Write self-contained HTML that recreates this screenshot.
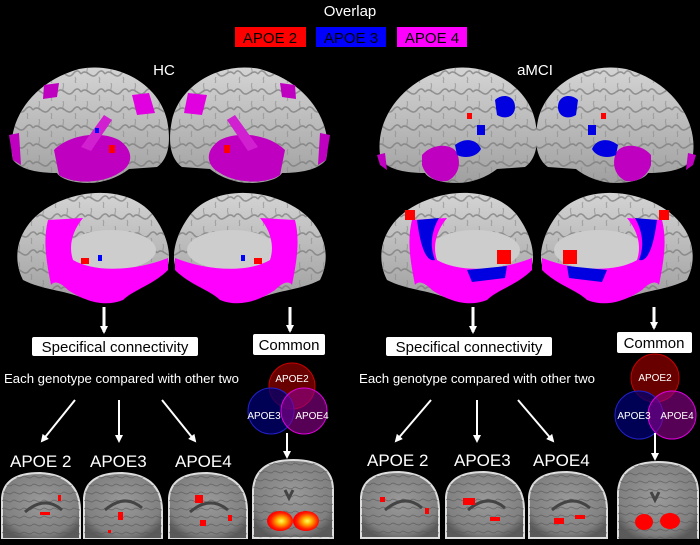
<!DOCTYPE html>
<html><head><meta charset="utf-8"><style>
html,body{margin:0;padding:0;background:#000;}
svg{display:block;}
text{font-family:"Liberation Sans",Arial,sans-serif;}
</style></head><body>
<svg width="700" height="545" viewBox="0 0 700 545" xmlns="http://www.w3.org/2000/svg">
<defs>
<linearGradient id="brainG" x1="0" y1="0" x2="0" y2="1">
<stop offset="0" stop-color="#d4d4d4"/><stop offset="1" stop-color="#a0a0a0"/></linearGradient>
<pattern id="gyri" width="24" height="18" patternUnits="userSpaceOnUse">
<path d="M0,9 C6,2 10,16 16,9 C20,4 22,6 24,9" fill="none" stroke="#7a7a7a" stroke-width="1.6" stroke-opacity="0.7"/>
<path d="M6,0 C8,4 4,6 7,9" fill="none" stroke="#8a8a8a" stroke-width="1.2" stroke-opacity="0.6"/>
<path d="M18,12 C20,15 17,16 19,18" fill="none" stroke="#8a8a8a" stroke-width="1.2" stroke-opacity="0.6"/>
</pattern>
<radialGradient id="mri" cx="0.5" cy="0.45" r="0.6">
<stop offset="0" stop-color="#9a9a9a"/><stop offset="0.8" stop-color="#808080"/><stop offset="1" stop-color="#5a5a5a"/></radialGradient>
<pattern id="mriT" width="10" height="8" patternUnits="userSpaceOnUse">
<path d="M0,4 C3,1 6,7 10,4" fill="none" stroke="#555" stroke-width="1" stroke-opacity="0.6"/>
</pattern>
<radialGradient id="hot" cx="0.55" cy="0.5" r="0.5">
<stop offset="0" stop-color="#ffff60"/><stop offset="0.35" stop-color="#ffb000"/><stop offset="0.8" stop-color="#ff2000"/><stop offset="1" stop-color="#ff0000"/></radialGradient>
<path id="lat" d="M4,95 C-4,60 20,18 70,4 C110,-4 150,20 158,55 C163,80 158,95 148,102 L120,104 C110,112 95,118 80,118 C60,118 50,112 48,108 C30,108 12,105 4,95 Z"/>
<path id="med" d="M10,90 C-5,60 10,25 50,10 C80,-2 120,0 140,25 C155,45 158,65 155,75 C150,85 140,90 120,95 C110,110 90,115 70,108 C50,100 30,100 10,90 Z"/>
<path id="sag" d="M0,66 L0,25 Q2,0 38,0 Q78,2 78,38 L78,66 Z"/>
<path id="cor" d="M0,78 L0,30 Q2,0 40,0 Q80,0 80,30 L80,78 Z"/>
<g id="latB"><use href="#lat" fill="url(#brainG)"/><use href="#lat" fill="url(#gyri)"/></g>
<g id="medB"><use href="#med" fill="url(#brainG)"/><use href="#med" fill="url(#gyri)"/><ellipse cx="98" cy="60" rx="45" ry="20" fill="#cdcdcd"/></g>
<marker id="ah" markerWidth="8" markerHeight="8" refX="6" refY="4" orient="auto" markerUnits="userSpaceOnUse"><path d="M0,0 L8,4 L0,8 Z" fill="#fff"/></marker>
</defs>

<text x="350" y="16" fill="#fff" font-size="15" text-anchor="middle">Overlap</text>
<rect x="235" y="27" width="71" height="20" fill="#f00"/>
<text x="270" y="43" fill="#000" font-size="15" text-anchor="middle">APOE 2</text>
<rect x="316" y="27" width="70" height="20" fill="#00f"/>
<text x="351" y="43" fill="#000" font-size="15" text-anchor="middle">APOE 3</text>
<rect x="397" y="27" width="70" height="20" fill="#f0f"/>
<text x="432" y="43" fill="#000" font-size="15" text-anchor="middle">APOE 4</text>

<text x="164" y="75" fill="#fff" font-size="15" text-anchor="middle">HC</text>
<text x="535" y="75" fill="#fff" font-size="15" text-anchor="middle">aMCI</text>

<!-- HC lateral brains -->
<g transform="translate(9,65)">
<use href="#latB"/>
<path d="M45,85 C60,70 90,65 110,75 C125,85 125,100 110,108 C95,118 65,120 50,110 Z" fill="#c000c0"/>
<path d="M72,82 L95,50 L103,55 L82,86 Z" fill="#d020d0"/>
<path d="M123,30 L140,28 L146,48 L128,50 Z" fill="#e000e0"/>
<path d="M0,70 L10,68 L12,100 L4,95 Z" fill="#c000c0"/>
<path d="M35,20 L50,18 L48,32 L34,34 Z" fill="#c000c0"/>
<rect x="100" y="80" width="6" height="8" fill="#f00"/><rect x="86" y="63" width="4" height="5" fill="#00f"/>
</g>
<g transform="translate(330,65) scale(-1,1)">
<use href="#latB"/>
<path d="M45,85 C60,70 90,65 110,75 C125,85 125,100 110,108 C95,118 65,120 50,110 Z" fill="#c000c0"/>
<path d="M72,82 L95,50 L103,55 L82,86 Z" fill="#d020d0"/>
<path d="M123,30 L142,28 L146,48 L128,50 Z" fill="#e000e0"/>
<path d="M0,70 L10,68 L12,100 L4,95 Z" fill="#c000c0"/>
<path d="M35,20 L50,18 L48,32 L34,34 Z" fill="#c000c0"/>
<rect x="100" y="80" width="6" height="8" fill="#f00"/>
</g>
<!-- aMCI lateral brains -->
<g transform="translate(377,65)">
<use href="#latB"/>
<path d="M45,90 C55,78 75,78 80,88 C85,100 80,112 70,116 C58,118 48,110 45,100 Z" fill="#c000c0"/>
<path d="M78,80 C88,72 100,74 104,84 C100,92 88,94 80,90 Z" fill="#0000e0"/>
<path d="M118,35 C125,28 138,30 138,42 C138,52 128,55 120,50 Z" fill="#0000e0"/>
<rect x="100" y="60" width="8" height="10" fill="#0000e0"/><rect x="90" y="48" width="5" height="6" fill="#f00"/>
<path d="M0,90 L8,88 L10,105 L3,100 Z" fill="#c000c0"/>
</g>
<g transform="translate(696,65) scale(-1,1)">
<use href="#latB"/>
<path d="M45,90 C55,78 75,78 80,88 C85,100 80,112 70,116 C58,118 48,110 45,100 Z" fill="#c000c0"/>
<path d="M78,80 C88,72 100,74 104,84 C100,92 88,94 80,90 Z" fill="#0000e0"/>
<path d="M118,35 C125,28 138,30 138,42 C138,52 128,55 120,50 Z" fill="#0000e0"/>
<rect x="100" y="60" width="8" height="10" fill="#0000e0"/><rect x="90" y="48" width="5" height="6" fill="#f00"/>
<path d="M0,90 L8,88 L10,105 L3,100 Z" fill="#c000c0"/>
</g>

<!-- medial brains -->
<g transform="translate(13,190)">
<use href="#medB"/>
<path d="M35,30 L70,28 C60,40 55,55 60,70 C80,82 120,82 155,68 L155,80 C140,95 120,100 110,110 C90,118 70,110 55,100 C45,90 40,92 38,95 C33,70 30,50 35,30 Z" fill="#ff00ff"/>
<rect x="68" y="68" width="8" height="6" fill="#f00"/><rect x="85" y="65" width="4" height="6" fill="#00f"/>
</g>
<g transform="translate(330,190) scale(-1,1)">
<use href="#medB"/>
<path d="M35,30 L70,28 C60,40 55,55 60,70 C80,82 120,82 155,68 L155,80 C140,95 120,100 110,110 C90,118 70,110 55,100 C45,90 40,92 38,95 C33,70 30,50 35,30 Z" fill="#ff00ff"/>
<rect x="68" y="68" width="8" height="6" fill="#f00"/><rect x="85" y="65" width="4" height="6" fill="#00f"/>
</g>
<g transform="translate(377,190)">
<use href="#medB"/>
<path d="M35,30 L70,28 C60,40 55,55 60,70 C80,82 120,82 155,68 L155,80 C140,95 120,100 110,110 C90,118 70,110 55,100 C45,90 40,92 38,95 C33,70 30,50 35,30 Z" fill="#ff00ff"/>
<path d="M40,30 L62,28 C55,40 52,55 58,70 C50,72 44,60 40,30 Z" fill="#0000e0"/>
<path d="M90,80 L130,76 L128,88 L95,92 Z" fill="#0000e0"/>
<rect x="28" y="20" width="10" height="10" fill="#f00"/><rect x="120" y="60" width="14" height="14" fill="#f00"/>
</g>
<g transform="translate(697,190) scale(-1,1)">
<use href="#medB"/>
<path d="M35,30 L70,28 C60,40 55,55 60,70 C80,82 120,82 155,68 L155,80 C140,95 120,100 110,110 C90,118 70,110 55,100 C45,90 40,92 38,95 C33,70 30,50 35,30 Z" fill="#ff00ff"/>
<path d="M40,30 L62,28 C55,40 52,55 58,70 C50,72 44,60 40,30 Z" fill="#0000e0"/>
<path d="M90,80 L130,76 L128,88 L95,92 Z" fill="#0000e0"/>
<rect x="28" y="20" width="10" height="10" fill="#f00"/><rect x="120" y="60" width="14" height="14" fill="#f00"/>
</g>

<!-- down arrows -->
<g stroke="#fff" stroke-width="3" marker-end="url(#ah)">
<line x1="104" y1="307" x2="104" y2="332"/>
<line x1="290" y1="307" x2="290" y2="331"/>
<line x1="473" y1="307" x2="473" y2="332"/>
<line x1="654" y1="307" x2="654" y2="328"/>
</g>

<rect x="32" y="337" width="166" height="19" rx="2" fill="#fff"/>
<text x="115" y="352" font-size="15" text-anchor="middle" fill="#000">Specifical connectivity</text>
<rect x="253" y="334" width="72" height="21" rx="2" fill="#fff"/>
<text x="289" y="350" font-size="15" text-anchor="middle" fill="#000">Common</text>
<rect x="386" y="337" width="166" height="19" rx="2" fill="#fff"/>
<text x="469" y="352" font-size="15" text-anchor="middle" fill="#000">Specifical connectivity</text>
<rect x="617" y="332" width="75" height="21" rx="2" fill="#fff"/>
<text x="654" y="348" font-size="15" text-anchor="middle" fill="#000">Common</text>

<text x="4" y="383" font-size="13" fill="#fff" textLength="235" lengthAdjust="spacingAndGlyphs">Each genotype compared with other two</text>
<text x="359" y="383" font-size="13" fill="#fff" textLength="236" lengthAdjust="spacingAndGlyphs">Each genotype compared with other two</text>

<g stroke="#fff" stroke-width="2" marker-end="url(#ah)">
<line x1="75" y1="400" x2="42" y2="441"/>
<line x1="119" y1="400" x2="119" y2="441"/>
<line x1="162" y1="400" x2="195" y2="441"/>
<line x1="431" y1="400" x2="396" y2="441"/>
<line x1="477" y1="400" x2="477" y2="441"/>
<line x1="518" y1="400" x2="553" y2="441"/>
</g>

<!-- Venn left -->
<circle cx="292" cy="386" r="23" fill="#7a0000" fill-opacity="0.85" stroke="#c00" stroke-width="1"/>
<circle cx="271" cy="411" r="23" fill="#000070" fill-opacity="0.75" stroke="#22c" stroke-width="1"/>
<circle cx="304" cy="411" r="23" fill="#900090" fill-opacity="0.6" stroke="#d0d" stroke-width="1"/>
<text x="292" y="382" font-size="10" fill="#fff" text-anchor="middle">APOE2</text>
<text x="264" y="419" font-size="10" fill="#fff" text-anchor="middle">APOE3</text>
<text x="312" y="419" font-size="10" fill="#fff" text-anchor="middle">APOE4</text>
<!-- Venn right -->
<circle cx="655" cy="378" r="24" fill="#7a0000" fill-opacity="0.85" stroke="#c00" stroke-width="1"/>
<circle cx="639" cy="415" r="24" fill="#000070" fill-opacity="0.75" stroke="#22c" stroke-width="1"/>
<circle cx="672" cy="415" r="24" fill="#900090" fill-opacity="0.6" stroke="#d0d" stroke-width="1"/>
<text x="655" y="381" font-size="10" fill="#fff" text-anchor="middle">APOE2</text>
<text x="634" y="419" font-size="10" fill="#fff" text-anchor="middle">APOE3</text>
<text x="677" y="419" font-size="10" fill="#fff" text-anchor="middle">APOE4</text>

<g stroke="#fff" stroke-width="2" marker-end="url(#ah)">
<line x1="287" y1="433" x2="287" y2="457"/>
<line x1="655" y1="433" x2="655" y2="459"/>
</g>

<g font-size="17" fill="#fff">
<text x="10" y="467">APOE 2</text>
<text x="90" y="467">APOE3</text>
<text x="175" y="467">APOE4</text>
<text x="367" y="466">APOE 2</text>
<text x="454" y="466">APOE3</text>
<text x="533" y="466">APOE4</text>
</g>

<!-- MRI images -->
<g stroke="#ddd" stroke-width="2">
<use href="#sag" transform="translate(2,473)" fill="url(#mri)"/>
<use href="#sag" transform="translate(84,473)" fill="url(#mri)"/>
<use href="#sag" transform="translate(169,473)" fill="url(#mri)"/>
<use href="#cor" transform="translate(253,460)" fill="url(#mri)"/>
<use href="#sag" transform="translate(361,472)" fill="url(#mri)"/>
<use href="#sag" transform="translate(446,472)" fill="url(#mri)"/>
<use href="#sag" transform="translate(529,472)" fill="url(#mri)"/>
<use href="#cor" transform="translate(618,462)" fill="url(#mri)"/>
</g>
<g>
<use href="#sag" transform="translate(2,473)" fill="url(#mriT)"/>
<use href="#sag" transform="translate(84,473)" fill="url(#mriT)"/>
<use href="#sag" transform="translate(169,473)" fill="url(#mriT)"/>
<use href="#cor" transform="translate(253,460)" fill="url(#mriT)"/>
<use href="#sag" transform="translate(361,472)" fill="url(#mriT)"/>
<use href="#sag" transform="translate(446,472)" fill="url(#mriT)"/>
<use href="#sag" transform="translate(529,472)" fill="url(#mriT)"/>
<use href="#cor" transform="translate(618,462)" fill="url(#mriT)"/>
</g>
<!-- callosum arcs -->
<g fill="none" stroke="#444" stroke-width="3">
<path d="M25,512 Q45,495 62,510"/><path d="M105,510 Q125,493 142,508"/><path d="M190,512 Q210,495 228,510"/>
<path d="M385,510 Q405,493 422,508"/><path d="M468,510 Q488,493 505,508"/><path d="M552,510 Q572,493 590,508"/>
<path d="M285,490 L289,498 L293,490"/><path d="M651,492 L655,500 L659,492"/>
</g>
<rect x="0" y="539" width="700" height="6" fill="#000"/>
<!-- red activations -->
<g fill="#f00">
<rect x="40" y="512" width="10" height="3"/><rect x="58" y="495" width="3" height="6"/>
<rect x="118" y="512" width="5" height="8"/><rect x="108" y="530" width="3" height="3"/>
<rect x="195" y="495" width="8" height="8"/><rect x="200" y="520" width="6" height="6"/><rect x="228" y="515" width="4" height="6"/>
<rect x="380" y="497" width="5" height="5"/><rect x="425" y="508" width="4" height="6"/>
<rect x="463" y="498" width="12" height="7"/><rect x="490" y="517" width="10" height="4"/>
<rect x="554" y="518" width="10" height="6"/><rect x="575" y="515" width="10" height="4"/>
<ellipse cx="644" cy="522" rx="9" ry="8"/><ellipse cx="670" cy="521" rx="10" ry="8"/>
</g>
<ellipse cx="280" cy="521" rx="13" ry="10" fill="url(#hot)"/>
<ellipse cx="306" cy="521" rx="13" ry="10" fill="url(#hot)"/>
</svg>
</body></html>
